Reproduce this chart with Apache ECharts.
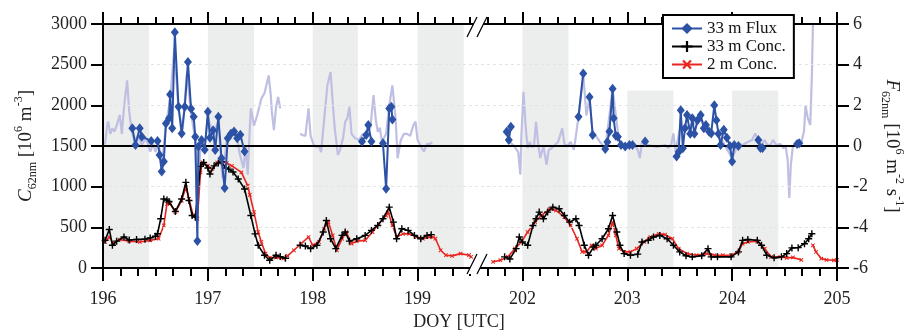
<!DOCTYPE html>
<html><head><meta charset="utf-8">
<script src="https://cdn.jsdelivr.net/npm/echarts@6/dist/echarts.min.js"></script>
<style>html,body{margin:0;padding:0;background:#fff}#c{width:913px;height:336px}</style>
</head><body><div id="c"></div>
<script>
// ---------- DATA (DOY, real day of year; null = gap) ----------
const nightStart = [196.0, 197.0, 198.0, 199.0, 202.0, 203.0, 204.0];
const nightEnd   = [196.44, 197.44, 198.43, 199.44, 202.44, 203.44, 204.44];

const conc33Doy = [196.02,196.06,196.09,196.13,196.20,196.25,196.32,196.40,196.45,196.50,196.52,196.55,196.58,196.61,196.63,196.69,196.75,196.79,196.82,196.85,196.88,196.93,196.96,197.00,197.02,197.06,197.10,197.13,197.17,197.20,197.24,197.29,197.35,197.41,197.45,197.48,197.54,197.59,197.65,197.69,197.74,null,
 197.88,197.93,197.98,198.04,198.10,198.13,198.17,198.22,198.28,198.31,198.35,198.42,198.50,198.56,198.62,198.67,198.73,198.77,198.80,198.85,198.91,198.97,199.03,199.09,199.13,null,
 201.83,201.88,201.94,201.97,202.00,202.05,202.10,202.13,202.16,202.20,202.24,202.29,202.35,202.40,202.45,202.51,202.54,202.59,202.63,202.68,202.70,202.76,202.82,202.86,202.90,202.93,202.97,203.03,203.10,203.14,203.20,203.25,203.31,203.38,203.44,203.50,203.56,203.62,203.71,203.77,203.80,203.86,203.99,204.06,204.10,204.15,204.24,204.28,204.33,204.40,204.47,204.52,204.57,204.63,204.69,204.73,204.76];
const conc33Val = [340,474,279,330,381,345,350,355,370,390,421,605,849,835,817,694,849,1053,829,645,625,1250,1297,1230,1155,1256,1290,1305,1230,1216,1180,1094,972,645,420,279,157,95,157,140,120,null,
 279,270,238,279,442,584,360,238,401,442,330,360,401,462,523,605,748,564,360,483,462,401,360,401,410,null,
 137,110,238,381,320,279,523,605,687,605,687,748,728,645,564,605,523,279,157,259,279,360,483,645,442,279,177,157,170,320,340,381,401,360,279,198,150,137,150,238,137,137,137,198,340,350,340,279,157,125,137,177,247,250,299,360,421];

const conc2Doy = [196.02,196.06,196.10,196.16,196.25,196.35,196.45,196.53,196.58,196.61,196.64,196.69,196.75,196.79,196.82,196.86,196.90,196.93,196.95,197.00,197.04,197.09,197.13,197.18,197.23,197.32,197.38,197.40,197.44,197.48,197.51,197.55,197.59,197.65,197.72,197.76,197.82,197.89,197.96,198.00,198.06,198.11,198.15,198.19,198.23,198.28,198.32,198.37,198.42,198.50,198.57,198.63,198.70,198.72,198.76,198.80,198.86,198.92,198.99,199.05,199.11,199.15,199.17,199.22,199.27,199.33,199.41,199.49,199.51,null,
 201.72,201.79,201.86,201.93,201.99,202.05,202.12,202.18,202.26,202.32,202.40,202.46,202.52,202.57,202.61,202.66,202.70,202.76,202.82,202.86,202.89,202.92,202.97,203.03,203.09,203.16,203.22,203.30,203.36,203.43,203.49,203.57,203.66,203.76,203.83,203.91,203.99,204.06,204.10,204.15,204.24,204.31,204.37,204.46,204.52,204.58,204.66,null,
 204.77,204.80,204.85,204.90,204.97,205.00];
const conc2Val = [320,381,300,350,330,320,340,360,523,788,788,687,829,992,850,645,605,1175,1300,1255,1216,1297,1320,1290,1256,1175,1012,900,687,442,320,177,124,130,116,150,218,300,381,279,320,483,564,400,218,360,442,300,330,340,442,544,645,687,523,380,420,420,381,360,381,380,360,218,157,149,177,157,137,null,
 76,96,137,238,320,442,564,645,727,707,625,523,360,198,198,279,238,279,401,564,401,238,198,198,238,320,381,421,410,360,238,177,157,177,157,157,157,198,299,320,328,238,137,137,125,130,100,null,
 279,198,116,100,95,100];

const fluxDoy = [196.28,196.31,196.35,196.37,196.46,196.52,196.54,196.56,196.58,196.60,196.63,196.64,196.66,196.685,196.72,196.75,196.78,196.81,196.84,196.865,196.88,196.90,196.91,196.94,196.97,197.00,197.02,197.05,197.07,197.10,197.13,197.16,197.19,197.22,197.25,197.28,197.31,197.35,null,
 198.47,198.51,198.53,198.56,null,198.67,198.70,198.73,198.75,198.76,null,
 201.85,201.87,201.89,null,202.535,202.58,null,202.64,202.67,null,
 202.79,202.81,202.83,202.86,202.87,202.89,202.91,202.94,202.98,203.02,203.05,null,203.17,null,
 203.47,203.49,203.51,203.53,203.55,203.57,203.60,203.62,203.64,203.67,203.70,203.73,203.75,203.78,203.80,203.83,203.85,203.87,203.89,203.92,203.95,203.98,204.00,204.02,204.06,null,
 204.25,204.27,204.29,null,204.62,204.64];
const fluxVal = [0.87,0.05,0.87,0.46,0.25,0.25,-0.44,-1.25,-0.76,1.11,1.36,2.53,0.87,5.59,1.93,0.62,1.93,4.13,1.83,1.44,0.46,-4.67,-0.03,0.3,-0.19,1.68,0.4,0.78,-0.2,1.44,-0.6,-2.07,0.38,0.6,0.71,0.38,0.55,-0.27,null,
 0.22,0.54,1.03,0.22,null,0.13,-2.1,1.85,1.93,1.3,null,
 0.7,0.3,0.95,null,1.44,3.56,null,2.41,0.54,null,
 -0.15,0.2,0.71,2.82,1.36,0.5,0.46,0.05,-0.03,0.05,0.05,null,0.22,null,
 -0.52,-0.3,1.76,-0.11,0.87,1.52,0.6,1.36,0.6,1.27,1.52,0.87,1.03,0.7,0.62,2.0,1.27,0.6,0.05,0.8,0.4,0.0,-0.76,0.05,0.0,null,
 0.3,-0.1,-0.1,null,0.1,0.13];

const fluxAllDoy = [196.00,196.02,196.04,196.05,196.07,196.09,196.11,196.13,196.16,196.18,196.20,196.23,196.25,196.27,196.30,196.33,196.37,196.41,196.45,196.48,196.50,196.53,196.56,196.60,196.64,196.68,196.72,196.76,196.80,196.84,196.88,196.90,196.93,196.97,197.00,197.05,197.10,197.14,197.18,197.22,197.27,197.30,197.34,197.36,197.38,197.40,197.41,197.44,197.47,197.51,197.54,197.58,197.60,197.61,197.63,197.65,197.67,197.69,null,
 197.88,197.90,197.93,197.96,197.98,198.01,198.03,198.06,198.08,198.11,198.14,198.17,198.19,198.21,198.24,198.26,198.29,198.31,198.33,198.35,198.37,198.40,198.44,198.48,198.51,198.55,198.58,198.60,198.62,198.64,198.66,198.70,198.73,198.76,198.79,198.81,198.84,198.87,198.90,198.93,198.96,198.98,199.00,199.03,199.06,199.09,199.12,199.14,null,
 201.85,201.88,201.92,201.96,201.98,201.99,202.01,202.03,202.05,202.07,202.09,202.11,202.13,202.15,202.17,202.20,202.23,202.25,202.28,202.31,202.34,202.38,202.40,202.43,202.46,202.49,202.51,202.535,202.58,202.61,202.64,202.67,202.70,202.74,202.79,202.86,202.92,202.98,203.03,203.07,203.10,203.12,203.14,203.17,203.20,203.24,203.28,203.32,203.36,203.39,203.42,203.44,203.46,203.50,203.60,203.70,203.80,203.90,204.00,204.06,204.10,204.15,204.19,204.22,204.25,204.28,204.31,204.33,204.36,204.39,204.42,204.46,204.49,204.51,204.53,204.545,204.56,204.58,204.62,204.66,204.685,204.70,204.72,204.745,204.76,204.77,204.775];
const fluxAllVal = [0.1,0.13,1.03,1.2,0.6,0.87,0.7,1.0,1.52,0.6,1.9,3.23,1.7,0.87,0.2,0.5,0.05,0.4,-0.27,0.1,-0.3,0.2,-1.0,1.0,2.3,4.8,1.8,0.8,3.6,1.6,0.3,-3.5,0.1,0.0,1.4,0.6,1.2,-1.6,0.3,0.8,0.71,-0.3,-1.09,-0.05,-1.41,0.87,1.85,1.0,1.5,2.33,2.6,3.47,2.5,1.7,0.78,1.9,2.41,1.85,null,
 0.6,0.54,0.5,1.85,0.5,0.05,-0.03,0.0,-0.3,1.36,2.98,3.64,2.2,0.87,-0.44,-0.2,0.4,1.2,1.36,1.93,0.6,0.4,0.3,0.6,0.5,0.9,2.5,1.36,0.7,0.9,0.2,0.6,2.0,2.98,1.36,-0.6,0.3,0.6,0.6,0.5,1.03,1.2,0.3,0.0,-0.27,0.1,0.1,0.2,null,
 0.4,0.2,0.0,-0.3,-1.41,0.5,2.66,1.0,-0.1,0.2,-0.05,0.0,1.19,0.1,-0.6,0.0,-0.93,-0.2,-0.1,0.05,0.2,0.87,0.1,0.0,0.2,-0.19,0.5,1.44,3.56,1.5,2.41,0.54,0.5,0.2,-0.15,2.8,0.3,0.0,0.05,0.05,-0.2,-0.6,0.2,0.1,0.05,0.0,-0.05,0.0,0.05,-0.1,0.1,0.62,-0.3,0.8,1.0,1.3,0.8,0.3,-0.6,0.1,0.05,0.2,0.3,0.62,0.3,0.05,0.3,0.1,0.0,0.3,0.05,0.1,-0.11,0.0,-0.7,-2.55,-0.9,0.0,0.1,0.2,0.71,2.0,1.4,1.03,3.4,5.9,7];

const xTickDoy = [196,197,198,199,202,203,204,205];
const legendNames = ['33 m Flux','33 m Conc.','2 m Conc.'];

// ---------- helpers ----------
const FONT = "'Liberation Serif','Times New Roman',serif";
const toAxis = d => d >= 200 ? d - 2 : d;
const fromAxis = u => u > 199.5 ? u + 2 : u;
function pairs(xs, ys){
  const out = []; let prev = null;
  for (let i = 0; i < xs.length; i++){
    if (ys[i] === null || xs[i] === null){ out.push([prev, null]); }
    else { prev = toAxis(xs[i]); out.push([prev, ys[i]]); }
  }
  return out;
}
const bands = nightStart.map((s,i) => [{xAxis: toAxis(s)}, {xAxis: toAxis(nightEnd[i])}]);

const BLUE = '#2c52a6', RED = '#e8251f', LAV = '#bfbfe3';
const plusPath = 'path://M4,0h2v4h4v2h-4v4h-2v-4h-4v-2h4z';

const chart = echarts.init(document.getElementById('c'), null, {renderer:'canvas'});
const axisLineStyle = {color:'#000', width:2};
const labelStyle = {fontFamily: FONT, fontSize: 18, color: '#222'};

const option = {
  animation: false,
  backgroundColor: '#fff',
  grid: {left:103, right:67, top:24, bottom:66, containLabel:false},
  legend: {
    data: legendNames, orient:'vertical', left:663, top:15, z:10,
    backgroundColor:'#fff', borderColor:'#000', borderWidth:2, borderRadius:0,
    padding:[5,8,5,8], itemGap:1, itemWidth:30, itemHeight:14,
    textStyle:{fontFamily:FONT, fontSize:17, color:'#111'}
  },
  xAxis: [
    {type:'value', min:196, max:203, interval:1, position:'bottom', z:5,
     axisLine:{show:true, onZero:false, lineStyle:axisLineStyle},
     axisTick:{show:true, length:13, lineStyle:{color:'#000', width:2}},
     minorTick:{show:true, splitNumber:6, length:8, lineStyle:{color:'#000', width:2}},
     axisLabel:Object.assign({margin:22, formatter: v => String(fromAxis(v))}, labelStyle),
     splitLine:{show:false},
     name:'DOY [UTC]', nameLocation:'middle', nameGap:45,
     nameTextStyle:{fontFamily:FONT, fontSize:18, color:'#222', padding:[0,22,0,0]}},
    {type:'value', min:196, max:203, interval:1, position:'top', z:5,
     axisLine:{show:true, onZero:false, lineStyle:axisLineStyle},
     axisTick:{show:true, length:12, lineStyle:{color:'#000', width:2}},
     minorTick:{show:true, splitNumber:6, length:7, lineStyle:{color:'#000', width:2}},
     axisLabel:{show:false}, splitLine:{show:false}}
  ],
  yAxis: [
    {type:'value', min:0, max:3000, interval:500, position:'left', z:5,
     axisLine:{show:true, onZero:false, lineStyle:axisLineStyle},
     axisTick:{show:true, length:12, lineStyle:{color:'#000', width:2}},
     axisLabel:Object.assign({margin:16, formatter: v => String(v)}, labelStyle),
     splitLine:{show:true, lineStyle:{color:'#e4e4e4', width:1, type:[3,3]}},
     name:'{i|C}{sub|62nm}{n| [10}{sup|6}{n| m}{sup|-3}{n|]}',
     nameLocation:'middle', nameGap:64, nameRotate:90,
     nameTextStyle:{color:'#222', rich:{
       i:{fontFamily:FONT, fontStyle:'italic', fontSize:19, lineHeight:26, color:'#222'},
       n:{fontFamily:FONT, fontSize:19, lineHeight:26, color:'#222'},
       sub:{fontFamily:FONT, fontSize:12, verticalAlign:'bottom', color:'#222'},
       sup:{fontFamily:FONT, fontSize:12, verticalAlign:'top', color:'#222'}}}},
    {type:'value', min:-6, max:6, interval:2, position:'right', z:5,
     axisLine:{show:true, onZero:false, lineStyle:axisLineStyle},
     axisTick:{show:true, length:12, lineStyle:{color:'#000', width:2}},
     axisLabel:Object.assign({margin:16, formatter: v => String(v)}, labelStyle),
     splitLine:{show:false},
     name:'{i|F}{sub|62nm}{n| [10}{sup|6}{n| m}{sup|-2}{n| s}{sup|-1}{n|]}',
     nameLocation:'middle', nameGap:42, nameRotate:-90,
     nameTextStyle:{color:'#222', rich:{
       i:{fontFamily:FONT, fontStyle:'italic', fontSize:19, lineHeight:26, color:'#222'},
       n:{fontFamily:FONT, fontSize:19, lineHeight:26, color:'#222'},
       sub:{fontFamily:FONT, fontSize:12, verticalAlign:'bottom', color:'#222'},
       sup:{fontFamily:FONT, fontSize:12, verticalAlign:'top', color:'#222'}}}}
  ],
  series: [
    {name:'night', type:'line', data:[], z:1, silent:true,
     markArea:{silent:true, itemStyle:{color:'#eceeed'}, data:bands}},
    {name:'all flux', type:'line', xAxisIndex:0, yAxisIndex:1, z:3, showSymbol:false,
     lineStyle:{color:LAV, width:2.2}, itemStyle:{color:LAV}, data:pairs(fluxAllDoy, fluxAllVal),
     markLine:{silent:true, symbol:'none', label:{show:false}, lineStyle:{color:'#000', width:2, type:'solid'},
       data:[{yAxis:0}]}},
    {name:legendNames[2], type:'line', xAxisIndex:0, yAxisIndex:0, z:4,
     symbol:plusPath, symbolRotate:45, symbolSize:5,
     lineStyle:{color:RED, width:1.6}, itemStyle:{color:RED},
     data:pairs(conc2Doy, conc2Val)},
    {name:legendNames[1], type:'line', xAxisIndex:0, yAxisIndex:0, z:5,
     symbol:plusPath, symbolSize:7,
     lineStyle:{color:'#000', width:1.6}, itemStyle:{color:'#000'},
     data:pairs(conc33Doy, conc33Val)},
    {name:legendNames[0], type:'line', xAxisIndex:0, yAxisIndex:1, z:6,
     symbol:'diamond', symbolSize:[8,10],
     lineStyle:{color:BLUE, width:2}, itemStyle:{color:BLUE},
     data:pairs(fluxDoy, fluxVal)}
  ]
};
chart.setOption(option);

// white area behind legend and axis break marks
const bx = chart.convertToPixel({xAxisIndex:0}, 199.5) + 8;
const yTop = chart.convertToPixel({yAxisIndex:0}, 3000);
const yBot = chart.convertToPixel({yAxisIndex:0}, 0);
function breakMark(cx, cy){
  return [
    {type:'polygon', z:20, shape:{points:[[cx-11,cy+10],[cx-1,cy-10],[cx+9,cy-10],[cx-1,cy+10]]}, style:{fill:'#fff'}},
    {type:'line', z:21, shape:{x1:cx-11,y1:cy+10,x2:cx-1,y2:cy-10}, style:{stroke:'#000', lineWidth:1.2}},
    {type:'line', z:21, shape:{x1:cx-1,y1:cy+10,x2:cx+9,y2:cy-10}, style:{stroke:'#000', lineWidth:1.2}}
  ];
}
const x203 = chart.convertToPixel({xAxisIndex:0}, toAxis(203));
chart.setOption({graphic:[
  {type:'rect', z:2, shape:{x:x203-4, y:yTop+1.5, width:175, height:65}, style:{fill:'#fff'}},
  ...breakMark(bx, yTop+3),
  ...breakMark(bx, yBot-4)
]});
</script></body></html>
